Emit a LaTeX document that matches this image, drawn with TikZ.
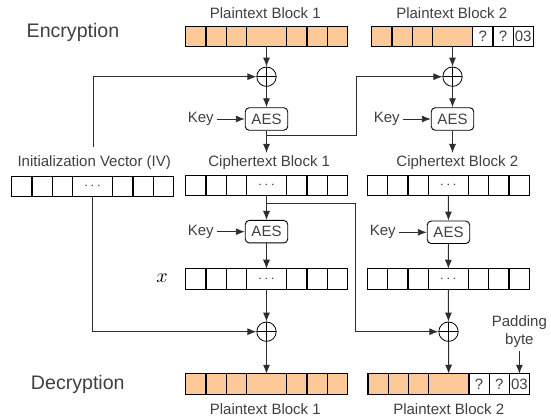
\documentclass[tikz,border=0pt]{standalone}
\usepackage{fontspec}
\setmainfont{Liberation Sans}
\usetikzlibrary{arrows.meta,positioning}

\definecolor{ptfill}{RGB}{253,201,152}
\definecolor{txtgrey}{RGB}{64,64,64}
\definecolor{linegrey}{RGB}{45,45,45}

% one block of 8 bytes: 3 cells, a wide cell, 3 cells
\newcommand{\datablock}[8]{%
    \node[wide,#3] (#1) at (#2) {#4};
    \node[cell,#3,left=0pt of #1] (#1-3) {};
    \node[cell,#3,left=0pt of #1-3] (#1-2) {};
    \node[cell,#3,left=0pt of #1-2] (#1-1) {};
    \node[cell,#5,right=0pt of #1] (#1-5) {#6};
    \node[cell,#5,right=0pt of #1-5] (#1-6) {#7};
    \node[cell,#5,right=0pt of #1-6] (#1-7) {#8};
}

\begin{document}
\begin{tikzpicture}[x=1pt,y=-1pt]
    \tikzset{cell/.style = {draw=black, line width=1.2pt, minimum width=20.2pt, minimum height=20.5pt, inner sep=0pt, outer sep=0pt, text=txtgrey, font=\fontsize{15}{18}\selectfont}}
    \tikzset{wide/.style = {cell, minimum width=40.4pt}}
    \tikzset{peach/.style = {fill=ptfill}}
    \tikzset{plain/.style = {fill=white}}
    \tikzset{lbl/.style = {text=txtgrey, font=\fontsize{15}{18}\selectfont, inner sep=3pt}}
    \tikzset{headline/.style = {text=txtgrey, font=\fontsize{19.6}{23}\selectfont, inner sep=0pt}}
    \tikzset{aes/.style = {draw=black, line width=0.9pt, rounded corners=4pt, minimum width=42.5pt, minimum height=22.5pt, inner sep=0pt, text=txtgrey, font=\fontsize{15}{18}\selectfont}}
    \tikzset{xor/.style = {circle, draw=black, line width=0.8pt, minimum size=19.4pt, inner sep=0pt,
        path picture={\draw[line width=0.6pt] (path picture bounding box.north) -- (path picture bounding box.south)
        (path picture bounding box.west) -- (path picture bounding box.east);}}}
    \tikzset{flow/.style = {draw=linegrey, line width=0.9pt, -{Latex[length=9pt,width=7pt]}}}
    \useasboundingbox (0,0) rectangle (551,419);

    % blocks
    \datablock{pt1}{266.5,36.5}{peach}{}{peach}{}{}{}
    \datablock{pt2}{452.5,36.5}{peach}{}{plain}{?}{?}{03}
    \datablock{iv}{92.5,186.5}{plain}{$\cdots$}{plain}{}{}{}
    \datablock{ct1}{266.5,185.5}{plain}{$\cdots$}{plain}{}{}{}
    \datablock{ct2}{448.3,185.5}{plain}{$\cdots$}{plain}{}{}{}
    \datablock{xa}{266.5,279}{plain}{$\cdots$}{plain}{}{}{}
    \datablock{xb}{448.3,279}{plain}{$\cdots$}{plain}{}{}{}
    \datablock{dp1}{266.5,384}{peach}{}{peach}{}{}{}
    \datablock{dp2}{448.7,384}{peach}{}{plain}{?}{?}{03}

    % labels
    \node[headline, anchor=base] (enc) at (73,37.7) {Encryption};
    \node[headline, anchor=base] (dec) at (77.8,389.3) {Decryption};
    \node[lbl, anchor=base] (pt1lbl) at (265.3,18.3) {Plaintext Block 1};
    \node[lbl, anchor=base] (pt2lbl) at (451.7,18.3) {Plaintext Block 2};
    \node[lbl, anchor=base] (ivlbl) at (94.2,167) {Initialization Vector (IV)};
    \node[lbl, anchor=base] (ct1lbl) at (269.2,167) {Ciphertext Block 1};
    \node[lbl, anchor=base] (ct2lbl) at (457.3,167) {Ciphertext Block 2};
    \node[lbl, anchor=base] (dp1lbl) at (265.3,414) {Plaintext Block 1};
    \node[lbl, anchor=base] (dp2lbl) at (448.7,414) {Plaintext Block 2};
    \node[text=black, inner sep=1pt] (xlbl) at (162,278) {\scalebox{2}{$x$}};
    \node[lbl, align=center, anchor=south] (pad) at (519.4,351) {Padding\\byte};

    % AES and xor
    \node[aes] (ae1) at (266.5,119) {AES};
    \node[aes] (ae2) at (452.5,119) {AES};
    \node[aes] (ad1) at (266.5,231.7) {AES};
    \node[aes] (ad2) at (448.5,232.3) {AES};
    \node[lbl, left=28pt of ae1] (ke1) {Key};
    \node[lbl, left=28pt of ae2] (ke2) {Key};
    \node[lbl, left=28pt of ad1] (kd1) {Key};
    \node[lbl, left=28pt of ad2] (kd2) {Key};
    \node[xor] (xe1) at (266.5,76.7) {};
    \node[xor] (xe2) at (452.5,76.7) {};
    \node[xor] (xd1) at (266.5,331.7) {};
    \node[xor] (xd2) at (448.5,331.7) {};

    % encryption
    \coordinate (ivfeed) at (93.5,147);
    \coordinate (chain1) at (356,135);
    \draw[flow] (pt1) -- (xe1);
    \draw[flow] (ivfeed) |- (xe1);
    \draw[flow] (xe1) -- (ae1);
    \draw[flow] (ae1) -- (ae1 |- ct1lbl.north);
    \draw[flow] (ae1.south |- chain1) -- (chain1) |- (xe2);
    \draw[flow] (pt2) -- (xe2);
    \draw[flow] (xe2) -- (ae2);
    \draw[flow] (ae2) -- (ae2 |- ct2lbl.north);
    \draw[flow] (ke1) -- (ae1);
    \draw[flow] (ke2) -- (ae2);

    % decryption
    \coordinate (chain2) at (355,203);
    \draw[flow] (ct1) -- (ad1);
    \draw[flow] (ct1.south |- chain2) -- (chain2) |- (xd2);
    \draw[flow] (ad1) -- (xa);
    \draw[flow] (xa) -- (xd1);
    \draw[flow] (iv) |- (xd1);
    \draw[flow] (xd1) -- (dp1);
    \draw[flow] (ct2) -- (ad2);
    \draw[flow] (ad2) -- (xb);
    \draw[flow] (xb) -- (xd2);
    \draw[flow] (xd2) -- (dp2);
    \draw[flow] (kd1) -- (ad1);
    \draw[flow] (kd2) -- (ad2);
    \draw[flow] (pad.south) -- (pad.south |- dp2-7.north);
\end{tikzpicture}
\end{document}
